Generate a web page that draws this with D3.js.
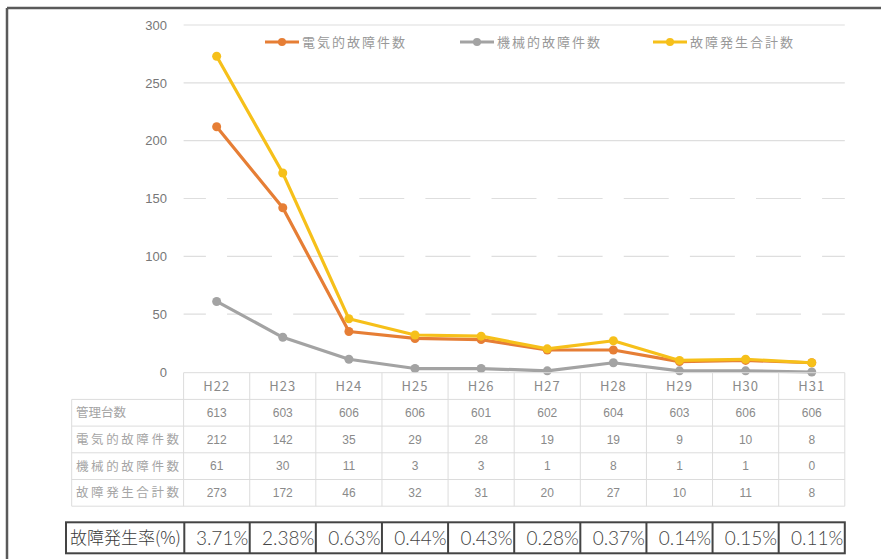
<!DOCTYPE html>
<html><head><meta charset="utf-8">
<script src="https://cdn.jsdelivr.net/npm/d3@7/dist/d3.min.js"></script>
<style>
html,body{margin:0;padding:0;background:#fff;}
svg{display:block;font-family:"Noto Sans CJK JP","Noto Sans",sans-serif;}
</style></head>
<body>
<svg id="chart" width="881" height="559"></svg>
<script>
const years = ["H22","H23","H24","H25","H26","H27","H28","H29","H30","H31"];
const managed = [613,603,606,606,601,602,604,603,606,606];
const electrical = [212,142,35,29,28,19,19,9,10,8];
const mechanical = [61,30,11,3,3,1,8,1,1,0];
const total = [273,172,46,32,31,20,27,10,11,8];
const rates = ["3.71%","2.38%","0.63%","0.44%","0.43%","0.28%","0.37%","0.14%","0.15%","0.11%"];
const yTicks = [0,50,100,150,200,250,300];
const seriesNames = ["電気的故障件数","機械的故障件数","故障発生合計数"];
const tableLabels = ["管理台数","電気的故障件数","機械的故障件数","故障発生合計数"];
const rateLabel = "故障発生率(%)";

const colors = ["#E67E35","#A3A3A3","#F6C01A"];
const series = [
  {name: seriesNames[0], values: electrical, color: colors[0]},
  {name: seriesNames[1], values: mechanical, color: colors[1]},
  {name: seriesNames[2], values: total, color: colors[2]}
];
const tableRows = [managed, electrical, mechanical, total];

const svg = d3.select("#chart");
const x = d3.scaleBand().domain(years).range([183.6, 844.8]);
const y = d3.scaleLinear().domain([0,300]).range([372, 25]);
const step = x.step();

// frame
svg.append("line").attr("x1",7).attr("x2",881).attr("y1",8).attr("y2",8)
  .attr("stroke","#5a5a5a").attr("stroke-width",2.5);
svg.append("line").attr("x1",7).attr("x2",7).attr("y1",8).attr("y2",559)
  .attr("stroke","#5a5a5a").attr("stroke-width",2.5);

// gridlines
const x0 = x.range()[0], x1 = x.range()[1];
svg.append("g").selectAll("line").data(yTicks.filter(d => d > 0)).join("line")
  .attr("x1", x0).attr("x2", x1)
  .attr("y1", d => y(d)).attr("y2", d => y(d))
  .attr("stroke", "#dedede").attr("stroke-width", 1.2)
  .attr("stroke-dasharray", d => d <= 150 ? (step*0.68) + "," + (step*0.32) : null)
  .attr("stroke-dashoffset", d => d <= 150 ? step*0.68 - step*0.337 : null);

// y axis labels
const yAxis = d3.axisLeft(y).tickValues(yTicks).tickSize(0).tickPadding(0);
const yg = svg.append("g").attr("transform","translate(167,0)").call(yAxis);
yg.select(".domain").remove();
yg.selectAll("text").attr("fill","#777").style("font-size","13px")
  .style("font-family","'Liberation Sans','Noto Sans',sans-serif");

// lines
const line = d3.line().x((d,i) => x(years[i]) + x.bandwidth()/2).y(d => y(d));
const sg = svg.append("g").selectAll("g").data(series).join("g");
sg.append("path").attr("d", d => line(d.values)).attr("fill","none")
  .attr("stroke", d => d.color).attr("stroke-width", 3.2).attr("stroke-linejoin","round");
sg.selectAll("circle").data(d => d.values.map(v => ({v, c: d.color}))).join("circle")
  .attr("cx", (d,i) => x(years[i]) + x.bandwidth()/2).attr("cy", d => y(d.v))
  .attr("r", 4.5).attr("fill", d => d.c);

// legend
const legendX = [265, 460, 653];
const lg = svg.append("g").selectAll("g").data(series).join("g")
  .attr("transform", (d,i) => `translate(${legendX[i]},42)`);
lg.append("line").attr("x1",0).attr("x2",34).attr("stroke", d => d.color).attr("stroke-width",3);
lg.append("circle").attr("cx",17).attr("r",4).attr("fill", d => d.color);
lg.append("text").attr("x",37).attr("dy","0.36em").text(d => d.name)
  .attr("fill","#999").style("font-size","13px").style("letter-spacing","2px");

// data table
const rowH = 26.7;
const tTop = 372.7;
const labelX0 = 71.7;
const tg = svg.append("g");
const gridColor = "#dcdcdc";
tg.append("line").attr("x1", x0).attr("x2", x1).attr("y1", tTop).attr("y2", tTop).attr("stroke", gridColor);
d3.range(1, 6).forEach(k => {
  tg.append("line").attr("x1", labelX0).attr("x2", x1)
    .attr("y1", tTop + k*rowH).attr("y2", tTop + k*rowH).attr("stroke", gridColor);
});
tg.append("line").attr("x1", labelX0).attr("x2", labelX0).attr("y1", tTop + rowH).attr("y2", tTop + 5*rowH).attr("stroke", gridColor);
tg.selectAll("line.v").data(years.concat(["end"])).join("line").attr("class","v")
  .attr("x1", (d,i) => x0 + i*step).attr("x2", (d,i) => x0 + i*step)
  .attr("y1", tTop).attr("y2", tTop + 5*rowH).attr("stroke", gridColor);
tg.selectAll("text.h").data(years).join("text").attr("class","h")
  .attr("x", d => x(d) + x.bandwidth()/2).attr("y", tTop + rowH/2).attr("dy","0.36em")
  .attr("text-anchor","middle").text(d => d)
  .attr("fill","#8a8a8a").style("font-size","13px").style("letter-spacing","1px");
tg.selectAll("text.l").data(tableLabels).join("text").attr("class","l")
  .attr("x", 76).attr("y", (d,i) => tTop + (i+1.5)*rowH).attr("dy","0.36em")
  .text(d => d).attr("fill","#a5a5a5").style("font-size","12.5px")
  .each(function(d){ if (d.length > 5) d3.select(this).attr("textLength",103).attr("lengthAdjust","spacing"); });
tableRows.forEach((row, r) => {
  tg.append("g").selectAll("text").data(row).join("text")
    .attr("x", (d,i) => x(years[i]) + x.bandwidth()/2).attr("y", tTop + (r+1.5)*rowH).attr("dy","0.36em")
    .attr("text-anchor","middle").text(d => d)
    .attr("fill","#8a8a8a").style("font-size","12px")
    .style("font-family","'Liberation Sans','Noto Sans',sans-serif");
});

// rate table
const rTop = 522.3, rBot = 553.3, rLeft = 66, rLabelEnd = 184.3;
const rg = svg.append("g");
rg.append("rect").attr("x", rLeft).attr("y", rTop).attr("width", x1 - rLeft).attr("height", rBot - rTop)
  .attr("fill","none").attr("stroke","#444").attr("stroke-width",2);
rg.selectAll("line").data(years).join("line")
  .attr("x1", (d,i) => i === 0 ? rLabelEnd : x0 + i*step)
  .attr("x2", (d,i) => i === 0 ? rLabelEnd : x0 + i*step)
  .attr("y1", rTop).attr("y2", rBot).attr("stroke","#444").attr("stroke-width",2);
rg.append("text").attr("x", 70).attr("y", (rTop+rBot)/2).attr("dy","0.36em")
  .text(rateLabel).attr("fill","#3a3a3a").style("font-size","17px").style("font-weight","300");
rg.selectAll("text.r").data(rates).join("text").attr("class","r")
  .attr("x", (d,i) => x0 + (i+1)*step - 1.5).attr("y", (rTop+rBot)/2).attr("dy","0.36em")
  .attr("text-anchor","end").text(d => d).attr("fill","#444").style("font-size","19px")
  .style("font-family","Lato,'Open Sans',sans-serif").style("font-weight","300");
</script>
</body></html>
